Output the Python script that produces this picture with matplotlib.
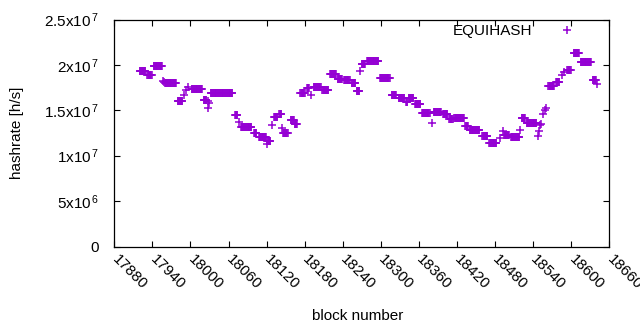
import numpy as np
import matplotlib
matplotlib.use("Agg")
import matplotlib.pyplot as plt
from matplotlib.ticker import FuncFormatter

plt.rcParams['font.family'] = ['Liberation Sans', 'DejaVu Sans']
plt.rcParams['mathtext.fontset'] = 'custom'
plt.rcParams['mathtext.rm'] = 'Liberation Sans'
plt.rcParams['mathtext.it'] = 'Liberation Sans'

# runs of blocks with the same hashrate (start block, end block, value in 1e7 h/s)
run_start = [17920, 17932, 17942, 17956, 17958, 17960, 17980, 17990, 17993, 17996,
             18002, 18021, 18027, 18028, 18030, 18032, 18070, 18077, 18080, 18100,
             18108, 18120, 18121, 18129, 18132, 18140, 18145, 18146, 18158, 18164,
             18173, 18184, 18190, 18194, 18208, 18220, 18232, 18242, 18254, 18262,
             18267, 18270, 18278, 18299, 18317, 18328, 18340, 18344, 18354, 18365,
             18380, 18383, 18398, 18408, 18416, 18433, 18440, 18460, 18471, 18487,
             18493, 18494, 18505, 18519, 18522, 18530, 18547, 18549, 18551, 18553,
             18556, 18558, 18560, 18564, 18576, 18585, 18589, 18594, 18604, 18615,
             18634, 18640]
run_end = [17929, 17939, 17955, 17956, 17958, 17977, 17987, 17990, 17993, 17996,
           18018, 18025, 18027, 18028, 18030, 18066, 18074, 18077, 18096, 18104,
           18119, 18120, 18126, 18129, 18137, 18143, 18145, 18153, 18163, 18168,
           18180, 18187, 18190, 18205, 18217, 18229, 18239, 18251, 18260, 18266,
           18267, 18275, 18296, 18314, 18324, 18337, 18342, 18351, 18362, 18377,
           18380, 18395, 18405, 18413, 18431, 18437, 18455, 18468, 18482, 18487,
           18493, 18502, 18518, 18519, 18527, 18545, 18547, 18549, 18551, 18553,
           18556, 18558, 18560, 18573, 18581, 18585, 18589, 18599, 18612, 18631,
           18639, 18640]
run_value = [1.93, 1.89, 1.99, 1.82, 1.81, 1.80, 1.60, 1.67, 1.72, 1.755,
             1.74, 1.61, 1.52, 1.60, 1.58, 1.693, 1.45, 1.37, 1.32, 1.245,
             1.205, 1.127, 1.16, 1.34, 1.43, 1.46, 1.31, 1.255, 1.39, 1.35,
             1.69, 1.746, 1.674, 1.755, 1.72, 1.90, 1.85, 1.837, 1.80, 1.715,
             1.93, 2.01, 2.048, 1.857, 1.674, 1.633, 1.596, 1.635, 1.571, 1.469,
             1.36, 1.48, 1.456, 1.40, 1.416, 1.33, 1.285, 1.212, 1.137, 1.20,
             1.275, 1.23, 1.208, 1.283, 1.41, 1.361, 1.22, 1.275, 1.335, 1.35,
             1.46, 1.50, 1.527, 1.765, 1.81, 1.885, 1.92, 1.943, 2.132, 2.036,
             1.829, 1.79]

xticks = list(range(17880, 18661, 60))
yticks = [0, 5e6, 1e7, 1.5e7, 2e7, 2.5e7]

blocks = []
rates = []
for s, e, v in zip(run_start, run_end, run_value):
    for b in range(s, e + 1):
        blocks.append(b)
        rates.append(v * 1e7)

fs = 11

fig = plt.figure(figsize=(6.4, 3.3), dpi=100)
ax = fig.add_axes([114.3 / 640, 1 - 246.5 / 330, 495 / 640, 227 / 330])

color = '#9400D3'
ax.plot(blocks, rates, linestyle='none', marker='+', markersize=5.5,
        markeredgewidth=1.1, color=color, label='EQUIHASH')

ax.set_xlim(17880, 18660)
ax.set_ylim(0, 2.5e7)
ax.set_xticks(xticks)
ax.set_yticks(yticks)


def yfmt(v, pos):
    if v == 0:
        return '0'
    exp = int(np.floor(np.log10(v)))
    mant = v / 10 ** exp
    m = ('%g' % mant)
    return m + 'x10$^{\\,%d}$' % exp


ax.yaxis.set_major_formatter(FuncFormatter(yfmt))
ax.tick_params(direction='in', top=True, right=True, length=4, width=0.8,
               labelsize=fs, colors='black')
ax.tick_params(axis='y', pad=11)
ax.tick_params(axis='x', pad=8)
for lab in ax.get_xticklabels():
    lab.set_rotation(-45)
    lab.set_ha('left')
    lab.set_va('center')
    lab.set_rotation_mode('anchor')
for sp in ax.spines.values():
    sp.set_linewidth(0.9)

fig.text(17 / 640, 1 - 133 / 330, 'hashrate [h/s]', rotation=90,
         ha='center', va='center', fontsize=fs)
fig.text(358 / 640, 1 - 316 / 330, 'block number', ha='center', va='center',
         fontsize=fs)

ax.legend(loc='upper right', bbox_to_anchor=(590 / 640, 1 - 24 / 330),
          bbox_transform=fig.transFigure, frameon=False, markerfirst=False,
          handlelength=3.05, handletextpad=0.7, borderpad=0, borderaxespad=0,
          fontsize=fs)

fig.savefig('out.png', dpi=100)
